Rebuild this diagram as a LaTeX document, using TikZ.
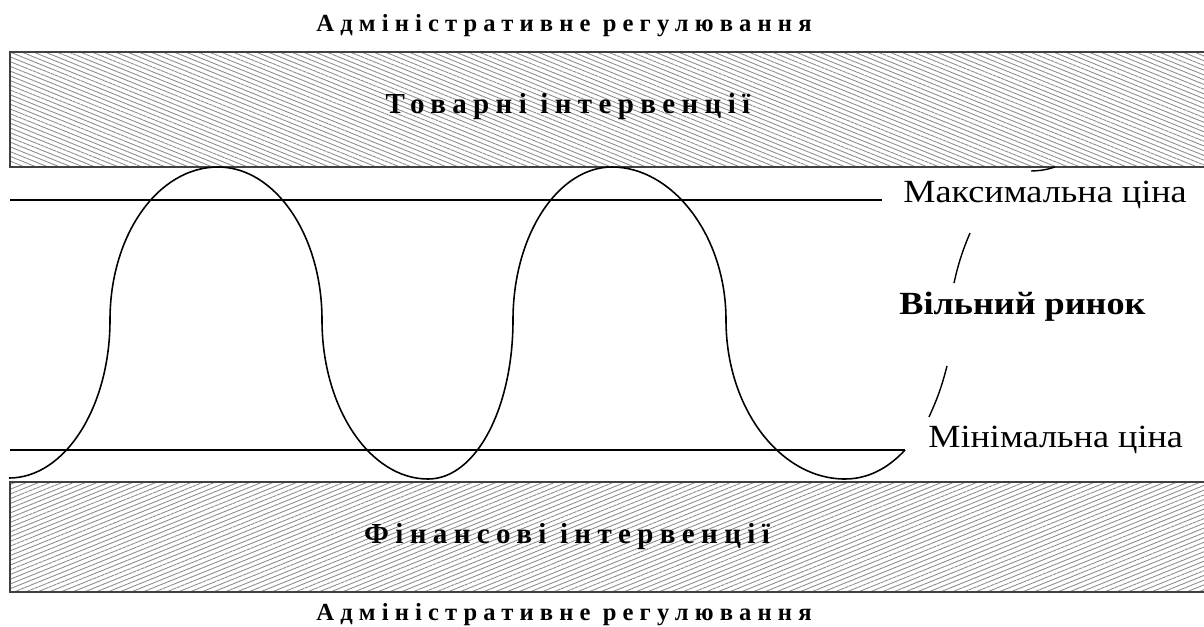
\documentclass[tikz,border=0pt]{standalone}
\usepackage{fontspec}
\setmainfont{Liberation Serif}
\newfontfamily\titlefont[LetterSpace=25]{Liberation Serif}
\newfontfamily\bandfont[LetterSpace=22]{Liberation Serif}
\newfontfamily\labelfont[FakeStretch=1.12]{Liberation Serif}
\usetikzlibrary{patterns.meta}

\begin{document}
\begin{tikzpicture}[
    x=0.02cm, y=-0.02cm,
    band/.style={draw=black!75, line width=0.6pt},
    hatchdown/.style={pattern={Lines[angle=-22, distance=2.5pt, line width=0.5pt]}, pattern color=black!45},
    hatchup/.style={pattern={Lines[angle=22, distance=2.5pt, line width=0.5pt]}, pattern color=black!45},
    title/.style={anchor=base, inner sep=0pt, font=\titlefont\bfseries\fontsize{14}{16}\selectfont},
    bandlabel/.style={anchor=base, inner sep=0pt, font=\bandfont\bfseries\fontsize{16.5}{19}\selectfont},
    pricelabel/.style={anchor=base west, inner sep=0pt, font=\labelfont\fontsize{18.4}{21}\selectfont},
    level/.style={line width=0.8pt},
    wave/.style={line width=0.9pt}
]
    \useasboundingbox (0,0) rectangle (1204,626);

    % Bands
    \path[hatchdown] (10,52) rectangle (1204,167);
    \draw[band] (1204,52) -- (10,52) -- (10,167) -- (1204,167);
    \path[hatchup] (10,482) rectangle (1204,592);
    \draw[band] (1204,482) -- (10,482) -- (10,592) -- (1204,592);

    \node[title] (admtop) at (564,31) {Адміністративне регулювання};
    \node[bandlabel] (goods) at (568,113) {Товарні інтервенції};
    \node[bandlabel] (finance) at (567,543) {Фінансові інтервенції};
    \node[title] (admbottom) at (564,620) {Адміністративне регулювання};

    % Price levels
    \node[pricelabel] (maxprice) at (903,202) {Максимальна ціна};
    \node[pricelabel, font=\labelfont\bfseries\fontsize{18.4}{21}\selectfont] (freemarket) at (899,314) {Вільний ринок};
    \node[pricelabel] (minprice) at (928,447) {Мінімальна ціна};
    \draw[level] (10,200) -- (882,200);
    \draw[level] (10,450) -- (905,450);

    % Market price
    \draw[wave] (9,478) .. controls (65,478) and (110,407) .. (110,320)
        .. controls (110,235) and (158,167) .. (218,167)
        .. controls (275,167) and (322,235) .. (322,320)
        .. controls (322,408) and (370,479) .. (428,479)
        .. controls (476,479) and (513,408) .. (513,320)
        .. controls (513,235) and (558,167) .. (612,167)
        .. controls (672,167) and (726,235) .. (726,320)
        .. controls (726,408) and (780,479) .. (845,479)
        .. controls (873,479) and (893,463) .. (905,450);

    % Free market bracket
    \draw[line width=0.8pt] (1055,167) to[bend left=8] (1031,171);
    \draw[line width=0.8pt] (970,233) to[bend right=5] (954,283);
    \draw[line width=0.8pt] (947,366) to[bend left=5] (929,417);
\end{tikzpicture}
\end{document}
